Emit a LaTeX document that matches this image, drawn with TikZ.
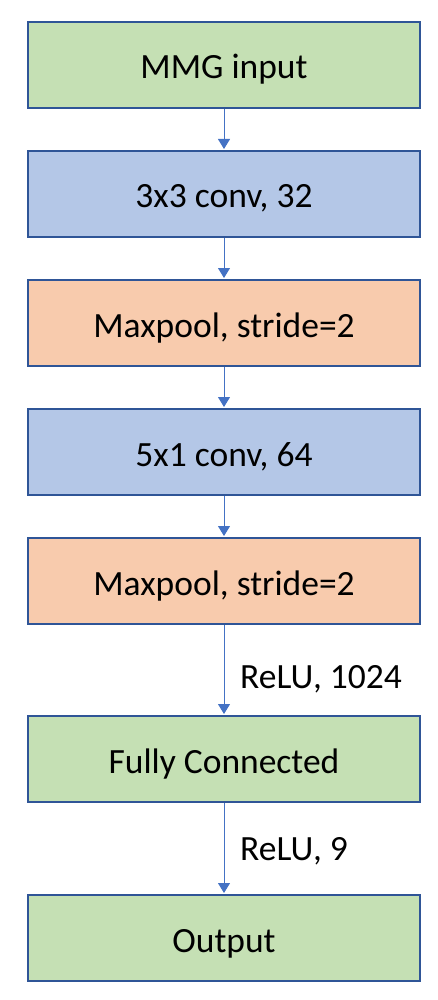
\documentclass[tikz,border=0pt]{standalone}
\usepackage{fontspec}
\setmainfont{Carlito}
\usetikzlibrary{arrows.meta}
\definecolor{boxgreen}{HTML}{C5E0B4}
\definecolor{boxblue}{HTML}{B4C7E7}
\definecolor{boxorange}{HTML}{F8CBAD}
\definecolor{edgeblue}{HTML}{2F5597}
\definecolor{arrowblue}{HTML}{4472C4}
\tikzset{
  layer/.style={draw=edgeblue, line width=2pt, rectangle, minimum width=392pt,
    minimum height=86pt, inner sep=0pt, text height=30pt, text depth=2pt,
    font=\fontsize{35.5}{42}\selectfont},
  greenbox/.style={layer, fill=boxgreen},
  bluebox/.style={layer, fill=boxblue},
  orangebox/.style={layer, fill=boxorange},
  flow/.style={draw=arrowblue, line width=1pt,
    -{Triangle[length=10pt, width=12pt]}, shorten >=1pt},
  lbl/.style={anchor=base west, inner sep=0pt, font=\fontsize{35.5}{42}\selectfont}
}
\begin{document}
\begin{tikzpicture}[x=1pt, y=-1pt]
  \useasboundingbox (0,0) rectangle (438,1000);
  \node[greenbox]  (in)   at (224,65)    {MMG input};
  \node[bluebox]   (c1)   at (224,194)   {3x3 conv, 32};
  \node[orangebox] (p1)   at (224,323)   {Maxpool, stride=2};
  \node[bluebox]   (c2)   at (224,452)   {5x1 conv, 64};
  \node[orangebox] (p2)   at (224,581)   {Maxpool, stride=2};
  \node[greenbox]  (fc)   at (224,759)   {Fully Connected};
  \node[greenbox]  (out)  at (224,938)   {Output};

  \draw[flow] (in.south)  -- (c1.north);
  \draw[flow] (c1.south)  -- (p1.north);
  \draw[flow] (p1.south)  -- (c2.north);
  \draw[flow] (c2.south)  -- (p2.north);
  \draw[flow] (p2.south)  -- (fc.north);
  \draw[flow] (fc.south)  -- (out.north);

  \node[lbl] (l1) at (240,688) {ReLU, 1024};
  \node[lbl] (l2) at (240,860) {ReLU, 9};
\end{tikzpicture}
\end{document}
